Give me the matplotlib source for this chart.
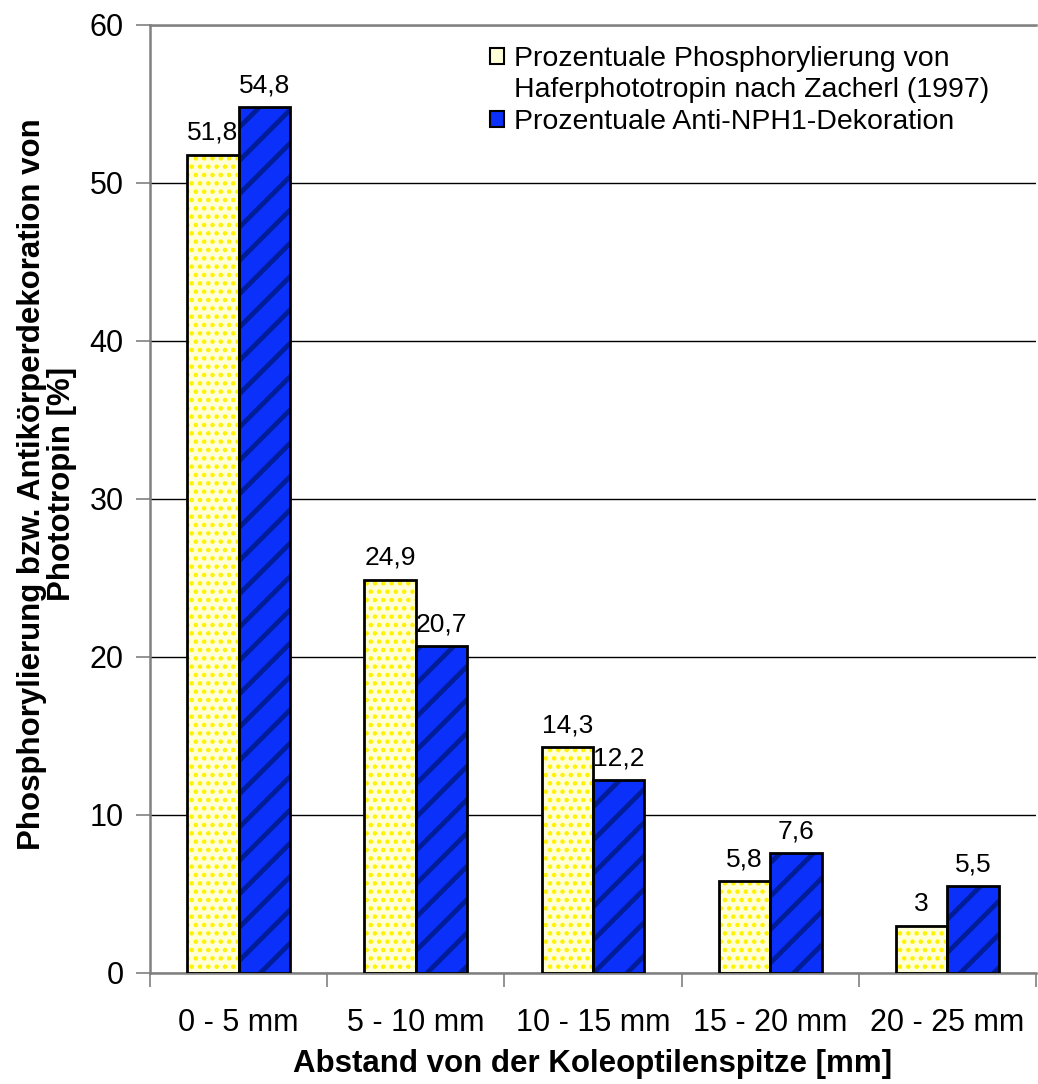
import matplotlib
matplotlib.use("Agg")
import matplotlib.pyplot as plt
import numpy as np
from matplotlib.patches import Patch

# Data
categories = ["0 - 5 mm", "5 - 10 mm", "10 - 15 mm", "15 - 20 mm", "20 - 25 mm"]
phospho = [51.8, 24.9, 14.3, 5.8, 3.0]
anti_nph1 = [54.8, 20.7, 12.2, 7.6, 5.5]
phospho_labels = ["51,8", "24,9", "14,3", "5,8", "3"]
anti_labels = ["54,8", "20,7", "12,2", "7,6", "5,5"]
series_names = ["Prozentuale Phosphorylierung von",
                "Haferphototropin nach Zacherl (1997)",
                "Prozentuale Anti-NPH1-Dekoration"]
yticks = [0, 10, 20, 30, 40, 50, 60]

plt.rcParams['font.family'] = ['Liberation Sans', 'DejaVu Sans']

W, H = 1038, 1084
fig = plt.figure(figsize=(W / 100, H / 100), dpi=100)
ax = fig.add_axes([150 / W, 1 - 973 / H, (1036 - 150) / W, (973 - 25) / H])

x = np.arange(len(categories))
bw = 0.29

yellow_fill, yellow_dot = "#FFFFD8", "#FFF200"
blue_fill, blue_stripe = "#0A30FA", "#001C96"

# Dotted yellow bars
with plt.rc_context({'hatch.linewidth': 2.0}):
    ax.bar(x - bw / 2, phospho, bw, facecolor=yellow_fill, edgecolor=yellow_dot,
           hatch='..', linewidth=0, zorder=2)
b1 = ax.bar(x - bw / 2, phospho, bw, fill=False, edgecolor='black', linewidth=2, zorder=3)

# Striped blue bars
with plt.rc_context({'hatch.linewidth': 3.4}):
    ax.bar(x + bw / 2, anti_nph1, bw, facecolor=blue_fill, edgecolor=blue_stripe,
           hatch='/', linewidth=0, zorder=2)
b2 = ax.bar(x + bw / 2, anti_nph1, bw, fill=False, edgecolor='black', linewidth=2, zorder=3)

ax.bar_label(b1, labels=phospho_labels, padding=7, fontsize=19)
ax.bar_label(b2, labels=anti_labels, padding=7, fontsize=19)

ax.set_xlim(-0.5, len(categories) - 0.5)
ax.set_ylim(0, 60)
ax.set_yticks(yticks)
ax.yaxis.grid(True, color='black', linewidth=1)
ax.set_axisbelow(True)

ax.set_xticks(x)
ax.set_xticklabels(categories, fontsize=22)
ax.set_xticks(np.arange(-0.5, len(categories)), minor=True)
ax.tick_params(axis='x', which='major', length=0, pad=25)
ax.tick_params(axis='x', which='minor', length=10, width=1.2, color='#808080', direction='out')
ax.tick_params(axis='y', labelsize=22, length=10, width=1.2, color='#808080', pad=9)

for side in ['left', 'bottom', 'top']:
    ax.spines[side].set_color('#808080')
    ax.spines[side].set_linewidth(1.8)
ax.spines['right'].set_visible(False)

ax.set_xlabel("Abstand von der Koleoptilenspitze [mm]", fontsize=22.5, fontweight='bold', labelpad=8)
ax.set_ylabel("Phosphorylierung bzw. Antikörperdekoration von\nPhototropin [%]",
              fontsize=22.5, fontweight='bold', linespacing=1.0)
ax.yaxis.set_label_coords(-0.082, 0.516)

handles = [Patch(facecolor=yellow_fill, edgecolor='black', linewidth=1.5),
           Patch(visible=False),
           Patch(facecolor=blue_fill, edgecolor='black', linewidth=1.5)]
leg = ax.legend(handles, series_names, loc='upper left',
                bbox_to_anchor=(490 / W, 1 - 46 / H), bbox_transform=fig.transFigure,
                frameon=False, fontsize=20.5, handlelength=0.5, handleheight=0.5,
                handletextpad=0.35, labelspacing=0.19, borderaxespad=0, borderpad=0)

fig.savefig("out.png", dpi=100, facecolor='white')
